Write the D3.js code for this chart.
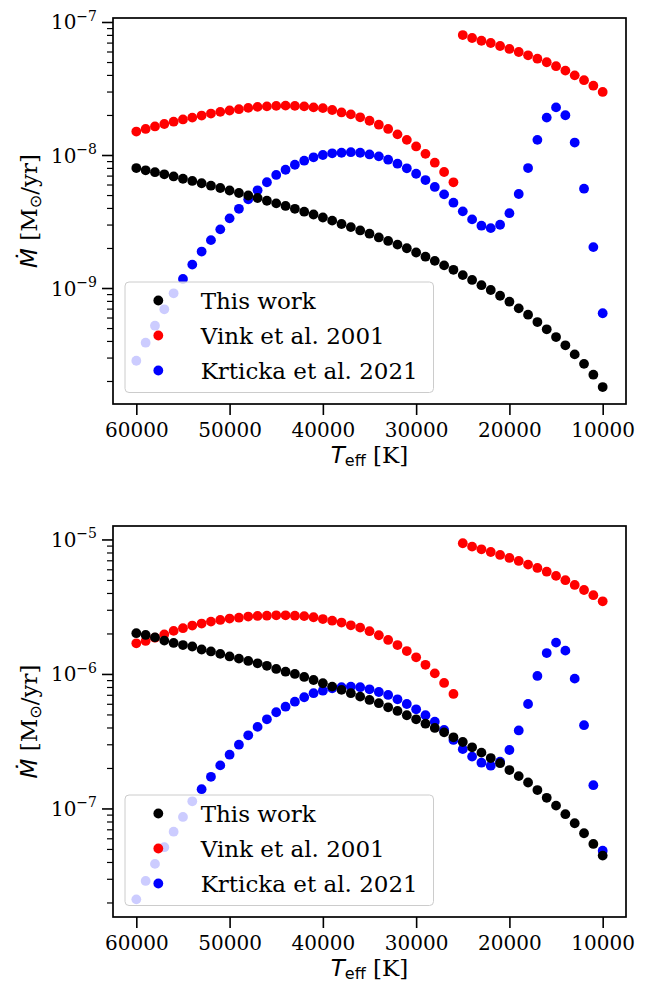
<!DOCTYPE html>
<html>
<head>
<meta charset="utf-8">
<script src="https://cdn.jsdelivr.net/npm/d3@7/dist/d3.min.js"></script>
<style>
  html, body { margin: 0; padding: 0; background: #fff; }
  svg { display: block; }
</style>
</head>
<body>
<svg id="chart" width="646" height="983"></svg>
<script>
// Effective temperature grid [K]
const teff = [
  60000, 59000, 58000, 57000, 56000, 55000, 54000, 53000, 52000, 51000,
  50000, 49000, 48000, 47000, 46000, 45000, 44000, 43000, 42000, 41000,
  40000, 39000, 38000, 37000, 36000, 35000, 34000, 33000, 32000, 31000,
  30000, 29000, 28000, 27000, 26000, 25000, 24000, 23000, 22000, 21000,
  20000, 19000, 18000, 17000, 16000, 15000, 14000, 13000, 12000, 11000,
  10000
];
const xTicks = [60000, 50000, 40000, 30000, 20000, 10000];

// Upper panel: mass-loss rates [Msun/yr]
const thisWorkA = [
  7.98e-9, 7.67e-9, 7.43e-9, 7.16e-9, 6.90e-9, 6.63e-9, 6.38e-9, 6.13e-9, 5.88e-9, 5.65e-9,
  5.41e-9, 5.18e-9, 4.96e-9, 4.75e-9, 4.53e-9, 4.33e-9, 4.14e-9, 3.94e-9, 3.75e-9, 3.57e-9,
  3.39e-9, 3.21e-9, 3.03e-9, 2.87e-9, 2.71e-9, 2.56e-9, 2.40e-9, 2.26e-9, 2.12e-9, 1.99e-9,
  1.85e-9, 1.72e-9, 1.60e-9, 1.48e-9, 1.37e-9, 1.25e-9, 1.15e-9, 1.05e-9, 9.66e-10, 8.75e-10,
  7.89e-10, 7.03e-10, 6.30e-10, 5.55e-10, 4.89e-10, 4.28e-10, 3.71e-10, 3.17e-10, 2.69e-10, 2.23e-10,
  1.80e-10
];
const vinkA = [
  1.50e-8, 1.57e-8, 1.64e-8, 1.71e-8, 1.78e-8, 1.85e-8, 1.91e-8, 1.98e-8, 2.05e-8, 2.11e-8,
  2.16e-8, 2.21e-8, 2.26e-8, 2.30e-8, 2.32e-8, 2.34e-8, 2.35e-8, 2.34e-8, 2.32e-8, 2.28e-8,
  2.25e-8, 2.18e-8, 2.09e-8, 2.02e-8, 1.92e-8, 1.81e-8, 1.69e-8, 1.57e-8, 1.43e-8, 1.30e-8,
  1.16e-8, 1.02e-8, 8.75e-9, 7.45e-9, 6.23e-9, 7.98e-8, 7.58e-8, 7.23e-8, 6.95e-8, 6.60e-8,
  6.27e-8, 5.95e-8, 5.62e-8, 5.30e-8, 4.98e-8, 4.65e-8, 4.31e-8, 3.97e-8, 3.65e-8, 3.32e-8,
  2.98e-8
];
const krtickaA = [
  2.84e-10, 3.88e-10, 5.21e-10, 6.92e-10, 9.12e-10, 1.17e-9, 1.50e-9, 1.88e-9, 2.29e-9, 2.76e-9,
  3.34e-9, 3.94e-9, 4.64e-9, 5.43e-9, 6.24e-9, 7.08e-9, 7.75e-9, 8.45e-9, 9.06e-9, 9.61e-9,
  1.00e-8, 1.03e-8, 1.04e-8, 1.05e-8, 1.04e-8, 1.01e-8, 9.77e-9, 9.22e-9, 8.60e-9, 7.94e-9,
  7.23e-9, 6.48e-9, 5.75e-9, 5.06e-9, 4.38e-9, 3.77e-9, 3.28e-9, 2.94e-9, 2.82e-9, 2.99e-9,
  3.65e-9, 5.09e-9, 7.98e-9, 1.30e-8, 1.91e-8, 2.28e-8, 1.99e-8, 1.24e-8, 5.58e-9, 2.03e-9,
  6.46e-10
];

// Lower panel: mass-loss rates [Msun/yr]
const thisWorkB = [
  2.01e-6, 1.95e-6, 1.87e-6, 1.77e-6, 1.70e-6, 1.64e-6, 1.60e-6, 1.52e-6, 1.47e-6, 1.41e-6,
  1.35e-6, 1.30e-6, 1.25e-6, 1.20e-6, 1.15e-6, 1.09e-6, 1.04e-6, 1.00e-6, 9.50e-7, 9.02e-7,
  8.53e-7, 8.05e-7, 7.61e-7, 7.19e-7, 6.78e-7, 6.41e-7, 6.06e-7, 5.65e-7, 5.31e-7, 4.93e-7,
  4.60e-7, 4.27e-7, 3.97e-7, 3.68e-7, 3.38e-7, 3.12e-7, 2.85e-7, 2.60e-7, 2.37e-7, 2.17e-7,
  1.93e-7, 1.74e-7, 1.56e-7, 1.37e-7, 1.20e-7, 1.05e-7, 9.06e-8, 7.76e-8, 6.54e-8, 5.45e-8,
  4.46e-8
];
const vinkB = [
  1.69e-6, 1.76e-6, 1.86e-6, 1.97e-6, 2.09e-6, 2.19e-6, 2.29e-6, 2.37e-6, 2.45e-6, 2.52e-6,
  2.58e-6, 2.62e-6, 2.67e-6, 2.70e-6, 2.71e-6, 2.73e-6, 2.73e-6, 2.71e-6, 2.69e-6, 2.64e-6,
  2.56e-6, 2.49e-6, 2.41e-6, 2.30e-6, 2.21e-6, 2.08e-6, 1.94e-6, 1.79e-6, 1.64e-6, 1.48e-6,
  1.33e-6, 1.17e-6, 1.01e-6, 8.57e-7, 7.10e-7, 9.37e-6, 8.84e-6, 8.45e-6, 8.07e-6, 7.67e-6,
  7.29e-6, 6.92e-6, 6.50e-6, 6.14e-6, 5.76e-6, 5.36e-6, 4.98e-6, 4.59e-6, 4.21e-6, 3.85e-6,
  3.47e-6
];
const krtickaB = [
  2.11e-8, 2.89e-8, 3.87e-8, 5.15e-8, 6.72e-8, 8.65e-8, 1.13e-7, 1.39e-7, 1.72e-7, 2.09e-7,
  2.51e-7, 2.98e-7, 3.50e-7, 4.04e-7, 4.60e-7, 5.19e-7, 5.71e-7, 6.22e-7, 6.71e-7, 7.19e-7,
  7.51e-7, 7.83e-7, 7.97e-7, 8.05e-7, 7.97e-7, 7.69e-7, 7.34e-7, 6.98e-7, 6.48e-7, 5.98e-7,
  5.46e-7, 4.93e-7, 4.42e-7, 3.83e-7, 3.23e-7, 2.76e-7, 2.43e-7, 2.19e-7, 2.08e-7, 2.23e-7,
  2.72e-7, 3.80e-7, 5.98e-7, 9.66e-7, 1.43e-6, 1.71e-6, 1.49e-6, 9.23e-7, 4.16e-7, 1.49e-7,
  4.85e-8
];

const seriesNames = ["This work", "Vink et al. 2001", "Krticka et al. 2021"];
const seriesColors = ["#000000", "#ff0000", "#0000ff"];

const SERIF = "'DejaVu Serif', serif";
const SANS = "'DejaVu Sans', sans-serif";

const svg = d3.select("#chart");
svg.append("rect").attr("width", 646).attr("height", 983).attr("fill", "#fff");

const left = 113, right = 626;
const x = d3.scaleLinear().domain([62500, 7500]).range([left, right]);

function drawPanel(top, bottom, logMin, logMax, series) {
  const y = d3.scaleLog().domain([Math.pow(10, logMin), Math.pow(10, logMax)]).range([bottom, top]);
  const g = svg.append("g");

  // markers: red, blue, then black on top
  const order = [1, 2, 0];
  order.forEach(si => {
    g.append("g").selectAll("circle")
      .data(series[si].map((v, i) => [teff[i], v]))
      .join("circle")
      .attr("cx", d => x(d[0]))
      .attr("cy", d => y(d[1]))
      .attr("r", 4.9)
      .attr("fill", seriesColors[si]);
  });

  // y axis: major + minor ticks
  const eLo = Math.ceil(logMin), eHi = Math.floor(logMax);
  const majors = d3.range(eLo, eHi + 1).map(e => Math.pow(10, e));
  const minors = [];
  for (let e = Math.floor(logMin); e <= Math.ceil(logMax); e++) {
    for (let m = 2; m <= 9; m++) {
      const v = m * Math.pow(10, e);
      const lv = Math.log10(v);
      if (lv >= logMin && lv <= logMax) minors.push(v);
    }
  }
  const yMaj = g.append("g").attr("transform", `translate(${left},0)`)
    .call(d3.axisLeft(y).tickValues(majors).tickSize(11).tickFormat(""));
  yMaj.select(".domain").remove();
  yMaj.selectAll("line").attr("stroke-width", 1.6);
  const yMin = g.append("g").attr("transform", `translate(${left},0)`)
    .call(d3.axisLeft(y).tickValues(minors).tickSize(6).tickFormat(""));
  yMin.select(".domain").remove();
  yMin.selectAll("line").attr("stroke-width", 1.2);

  majors.forEach(v => {
    const e = Math.round(Math.log10(v));
    const t = g.append("text")
      .attr("x", 97).attr("y", y(v) + 7.5)
      .attr("text-anchor", "end")
      .attr("font-family", SERIF).attr("font-size", 20).attr("fill", "#000");
    t.append("tspan").text("10");
    t.append("tspan").attr("font-size", 14).attr("dy", -8.5).text("\u2212" + Math.abs(e));
  });

  // x axis
  const xa = g.append("g").attr("transform", `translate(0,${bottom})`)
    .call(d3.axisBottom(x).tickValues(xTicks).tickSize(11).tickFormat(d3.format("d")));
  xa.select(".domain").remove();
  xa.selectAll("line").attr("stroke-width", 1.6);
  xa.selectAll("text")
    .attr("y", 32.5).attr("dy", null)
    .attr("font-family", SERIF).attr("font-size", 20).attr("fill", "#000");

  // frame
  g.append("rect")
    .attr("x", left).attr("y", top)
    .attr("width", right - left).attr("height", bottom - top)
    .attr("fill", "none").attr("stroke", "#000").attr("stroke-width", 1.7);

  // x label
  const xl = g.append("text")
    .attr("x", (left + right) / 2).attr("y", bottom + 58.5)
    .attr("text-anchor", "middle").attr("font-size", 23).attr("fill", "#000");
  xl.append("tspan").attr("font-family", SANS).attr("font-style", "italic").text("T");
  xl.append("tspan").attr("font-family", SANS).attr("font-size", 16).attr("dy", 3.5).text("eff");
  xl.append("tspan").attr("font-family", SERIF).attr("dy", -3.5).text(" [K]");

  // y label
  const cy = (top + bottom) / 2;
  const yl = g.append("text")
    .attr("transform", `translate(37,${cy}) rotate(-90)`)
    .attr("text-anchor", "middle").attr("font-size", 23).attr("fill", "#000");
  yl.append("tspan").attr("font-family", SANS).attr("font-style", "italic").text("\u1E40");
  yl.append("tspan").attr("font-family", SERIF).text(" [M");
  yl.append("tspan").attr("font-family", SANS).attr("font-size", 16).attr("dy", 4).text("\u2299");
  yl.append("tspan").attr("font-family", SERIF).attr("dy", -4).text("/yr]");

  // legend
  const lx = 125, lw = 308.5, lh = 110.5, ly = bottom - 11.5 - lh;
  const lg = g.append("g");
  lg.append("rect")
    .attr("x", lx).attr("y", ly).attr("width", lw).attr("height", lh)
    .attr("rx", 4).attr("ry", 4)
    .attr("fill", "#fff").attr("fill-opacity", 0.8)
    .attr("stroke", "#cccccc").attr("stroke-width", 1);
  seriesNames.forEach((name, i) => {
    const ry = ly + 18.5 + i * 35;
    lg.append("circle").attr("cx", 158.3).attr("cy", ry).attr("r", 4.9).attr("fill", seriesColors[i]);
    lg.append("text").attr("x", 200.7).attr("y", ry + 8.3)
      .attr("font-family", SERIF).attr("font-size", 23).attr("fill", "#000")
      .text(name);
  });
}

drawPanel(18, 404, -9.872, -6.970, [thisWorkA, vinkA, krtickaA]);
drawPanel(526, 917, -7.807, -4.900, [thisWorkB, vinkB, krtickaB]);
</script>
</body>
</html>
